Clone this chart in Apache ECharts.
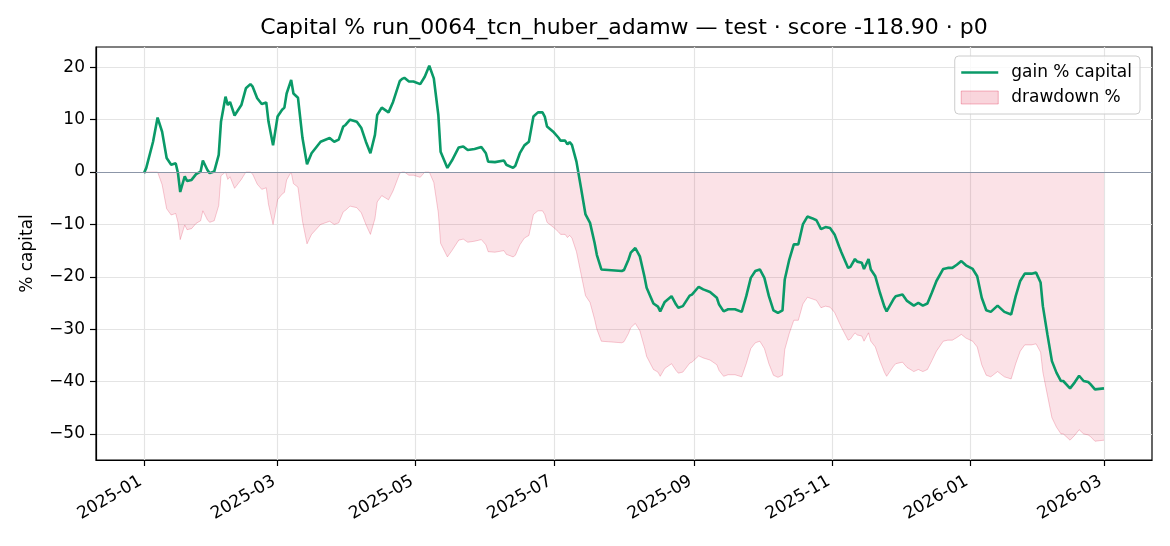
<!DOCTYPE html>
<html><head><meta charset="utf-8">
<script src="https://cdn.jsdelivr.net/npm/echarts@6/dist/echarts.min.js"></script>
<style>html,body{margin:0;padding:0;background:#fff}#c{width:1170px;height:546px}</style>
</head><body><div id="c"></div>
<script>
const dates = ['2025-01-01','2025-01-02','2025-01-05','2025-01-07','2025-01-09','2025-01-11','2025-01-13','2025-01-15','2025-01-16','2025-01-17','2025-01-19','2025-01-20','2025-01-22','2025-01-24','2025-01-26','2025-01-27','2025-01-29','2025-01-30',
'2025-02-01','2025-02-03','2025-02-04','2025-02-06','2025-02-07','2025-02-08','2025-02-10','2025-02-13','2025-02-15','2025-02-17','2025-02-18','2025-02-20','2025-02-22','2025-02-24','2025-02-25','2025-02-27',
'2025-03-01','2025-03-03','2025-03-04','2025-03-05','2025-03-07','2025-03-08','2025-03-10','2025-03-12','2025-03-14','2025-03-16','2025-03-20','2025-03-24','2025-03-26','2025-03-28','2025-03-30','2025-03-31',
'2025-04-02','2025-04-05','2025-04-07','2025-04-09','2025-04-11','2025-04-13','2025-04-14','2025-04-16','2025-04-19','2025-04-21','2025-04-24','2025-04-25','2025-04-26','2025-04-28','2025-04-30',
'2025-05-03','2025-05-05','2025-05-07','2025-05-09','2025-05-11','2025-05-12','2025-05-15','2025-05-17','2025-05-20','2025-05-22','2025-05-24','2025-05-27','2025-05-30',
'2025-06-01','2025-06-02','2025-06-05','2025-06-09','2025-06-10','2025-06-13','2025-06-14','2025-06-16','2025-06-18','2025-06-20','2025-06-22','2025-06-24','2025-06-26','2025-06-27','2025-06-28',
'2025-07-01','2025-07-03','2025-07-04','2025-07-06','2025-07-07','2025-07-08','2025-07-09','2025-07-11','2025-07-13','2025-07-15','2025-07-17','2025-07-19','2025-07-20','2025-07-22','2025-07-25','2025-07-31',
'2025-08-01','2025-08-03','2025-08-04','2025-08-06','2025-08-08','2025-08-10','2025-08-11','2025-08-14','2025-08-16','2025-08-17','2025-08-19','2025-08-22','2025-08-24','2025-08-25','2025-08-27','2025-08-30','2025-08-31',
'2025-09-03','2025-09-05','2025-09-08','2025-09-11','2025-09-12','2025-09-14','2025-09-16','2025-09-19','2025-09-22','2025-09-24','2025-09-26','2025-09-28','2025-09-30',
'2025-10-02','2025-10-04','2025-10-06','2025-10-08','2025-10-10','2025-10-11','2025-10-13','2025-10-15','2025-10-17','2025-10-19','2025-10-21','2025-10-23','2025-10-25','2025-10-27','2025-10-29','2025-10-31',
'2025-11-02','2025-11-04','2025-11-05','2025-11-08','2025-11-09','2025-11-11','2025-11-12','2025-11-14','2025-11-15','2025-11-17','2025-11-18','2025-11-20','2025-11-22','2025-11-24','2025-11-25','2025-11-28','2025-11-29',
'2025-12-02','2025-12-04','2025-12-07','2025-12-09','2025-12-11','2025-12-13','2025-12-15','2025-12-17','2025-12-20','2025-12-22','2025-12-24','2025-12-26','2025-12-28','2025-12-30',
'2026-01-02','2026-01-04','2026-01-06','2026-01-08','2026-01-10','2026-01-13','2026-01-16','2026-01-19','2026-01-21','2026-01-23','2026-01-25','2026-01-28','2026-01-30',
'2026-02-01','2026-02-02','2026-02-04','2026-02-06','2026-02-08','2026-02-10','2026-02-11','2026-02-14','2026-02-16','2026-02-18','2026-02-20','2026-02-22','2026-02-23','2026-02-25','2026-03-01'];

const gain = [-0.2,0.8,5.8,10.4,7.7,2.7,1.4,1.7,-0.2,-3.8,-0.8,-1.7,-1.5,-0.4,0.1,2.2,0.4,-0.2,
0.1,3.3,9.6,14.4,12.8,13.4,10.8,12.8,16.0,16.8,16.3,14.1,13.0,13.3,9.6,5.1,
10.6,11.9,12.3,15.0,17.6,15.0,14.2,6.5,1.5,3.6,5.8,6.5,5.8,6.2,8.7,9.0,
10.0,9.6,8.4,5.8,3.6,7.1,10.9,12.3,11.4,13.4,17.4,17.8,18.0,17.3,17.3,
16.8,18.2,20.3,17.9,10.9,3.9,0.8,2.2,4.7,4.9,4.2,4.4,4.8,
3.6,2.0,1.9,2.2,1.4,0.8,1.2,3.6,5.1,5.8,10.6,11.4,11.4,10.6,8.7,
7.6,6.6,6.0,6.0,5.3,5.7,5.2,2.0,-3.0,-8.1,-9.7,-13.5,-15.8,-18.6,-18.7,-18.9,
-18.7,-16.7,-15.4,-14.5,-16.1,-19.9,-22.1,-25.1,-25.7,-26.6,-24.8,-23.7,-25.3,-25.9,-25.6,-23.6,-23.4,
-21.9,-22.4,-22.9,-24.0,-25.3,-26.6,-26.2,-26.2,-26.7,-23.7,-20.2,-18.9,-18.6,
-20.2,-23.7,-26.4,-26.9,-26.4,-20.5,-16.7,-13.8,-13.8,-10.0,-8.5,-8.8,-9.2,-10.9,-10.5,-10.7,
-11.9,-14.2,-15.3,-18.3,-18.1,-16.6,-17.1,-17.3,-18.5,-16.6,-18.6,-19.9,-23.0,-25.7,-26.6,-24.3,-23.7,
-23.4,-24.6,-25.5,-25.0,-25.5,-25.1,-23.0,-20.8,-18.5,-18.3,-18.3,-17.7,-17.0,-17.8,
-18.5,-19.9,-24.0,-26.4,-26.7,-25.5,-26.7,-27.2,-23.7,-20.8,-19.4,-19.4,-19.2,
-21.1,-25.6,-31.0,-36.1,-38.3,-39.9,-39.9,-41.3,-40.2,-38.9,-39.9,-40.1,-40.5,-41.5,-41.3];

const drawdown = [-0.2,0,0,0,-2.4,-7.0,-8.2,-7.9,-9.6,-12.9,-10.1,-11.0,-10.8,-9.8,-9.3,-7.4,-9.1,-9.6,
-9.3,-6.4,-0.7,0,-1.4,-0.9,-3.1,-1.4,0,0,-0.4,-2.3,-3.3,-3.0,-6.2,-10.0,
-5.3,-4.2,-3.9,-1.5,0,-2.2,-2.9,-9.4,-13.7,-11.9,-10.0,-9.4,-10.0,-9.7,-7.6,-7.3,
-6.5,-6.8,-7.8,-10.0,-11.9,-8.9,-5.7,-4.5,-5.3,-3.6,-0.2,0,0,-0.6,-0.6,
-1.0,0,0,-2.0,-7.8,-13.6,-16.2,-15.0,-13.0,-12.8,-13.4,-13.2,-12.9,
-13.9,-15.2,-15.3,-15.0,-15.7,-16.2,-15.9,-13.9,-12.6,-12.1,-8.1,-7.4,-7.4,-8.1,-9.6,
-10.6,-11.4,-11.9,-11.9,-12.5,-12.1,-12.6,-15.2,-19.4,-23.6,-24.9,-28.1,-30.0,-32.3,-32.4,-32.6,
-32.4,-30.8,-29.7,-28.9,-30.3,-33.4,-35.2,-37.7,-38.2,-39.0,-37.5,-36.6,-37.9,-38.4,-38.2,-36.5,-36.3,
-35.1,-35.5,-35.9,-36.8,-37.9,-39.0,-38.7,-38.7,-39.1,-36.6,-33.7,-32.6,-32.3,
-33.7,-36.6,-38.8,-39.2,-38.8,-33.9,-30.8,-28.3,-28.3,-25.2,-23.9,-24.2,-24.5,-25.9,-25.6,-25.8,
-26.8,-28.7,-29.6,-32.1,-31.9,-30.7,-31.1,-31.3,-32.3,-30.7,-32.3,-33.4,-36.0,-38.2,-39.0,-37.1,-36.6,
-36.3,-37.3,-38.1,-37.7,-38.1,-37.7,-36.0,-34.2,-32.3,-32.1,-32.1,-31.6,-31.0,-31.7,
-32.3,-33.4,-36.8,-38.8,-39.1,-38.1,-39.1,-39.5,-36.6,-34.2,-33.0,-33.0,-32.8,
-34.4,-38.2,-42.6,-46.9,-48.7,-50.0,-50.0,-51.2,-50.3,-49.2,-50.0,-50.2,-50.5,-51.4,-51.2];

const tickLabels = ['2025-01','2025-03','2025-05','2025-07','2025-09','2025-11','2026-01','2026-03'];
const yTicks = [-50,-40,-30,-20,-10,0,10,20];

function ts(s){ const p = s.split('-').map(Number); return Date.UTC(p[0], p[1]-1, p[2] || 1); }
const xs = dates.map(ts);
const x0 = xs[0], x1 = xs[xs.length-1], xpad = (x1 - x0) * 0.05;
const allY = gain.concat(drawdown, [0]);
const yLo = Math.min.apply(null, allY), yHi = Math.max.apply(null, allY), ypad = (yHi - yLo) * 0.05;
const tickTs = tickLabels.map(ts);
function fmtMonth(v){ const d = new Date(v); return d.getUTCFullYear() + '-' + String(d.getUTCMonth()+1).padStart(2,'0'); }
function fmtY(v){ return v < 0 ? '\u2212' + Math.abs(v) : String(v); }
const FONT = 'DejaVu Sans';
const GREEN = '#0a9a68';

const chart = echarts.init(document.getElementById('c'), null, {renderer: 'canvas'});
chart.setOption({
  animation: false,
  backgroundColor: '#fff',
  title: {
    text: 'Capital % run_0064_tcn_huber_adamw \u2014 test \u00b7 score -118.90 \u00b7 p0',
    left: 624, textAlign: 'center', top: 17, padding: 0,
    textStyle: {fontFamily: FONT, fontSize: 22, fontWeight: 'normal', color: '#000'}
  },
  legend: {
    orient: 'vertical', right: 30, top: 56, padding: [8, 8, 8, 6], itemGap: 8,
    itemWidth: 37, itemHeight: 13,
    backgroundColor: 'rgba(255,255,255,0.8)', borderColor: '#cccccc', borderWidth: 1, borderRadius: 4,
    textStyle: {fontFamily: FONT, fontSize: 17, color: '#000', padding: [0, 0, 0, 8]},
    data: [
      {name: 'gain % capital', icon: 'path://M0,0 M0,5.2 L37,5.2 L37,7.8 L0,7.8 Z M37,13',
       itemStyle: {color: GREEN, borderWidth: 0}},
      {name: 'drawdown %', icon: 'rect', itemStyle: {color: 'rgba(220,20,60,0.18)', borderColor: 'rgba(220,20,60,0.3)', borderWidth: 1}}
    ]
  },
  grid: {left: 96, right: 18, top: 47, bottom: 86, show: true, borderColor: '#000', borderWidth: 1.2, backgroundColor: 'transparent'},
  xAxis: {
    type: 'value', min: x0 - xpad, max: x1 + xpad,
    axisLine: {show: true, onZero: false, lineStyle: {color: '#000', width: 1.2}},
    axisTick: {show: true, customValues: tickTs, length: 6, lineStyle: {color: '#000', width: 1.2}},
    axisLabel: {customValues: tickTs, formatter: fmtMonth, rotate: 30, fontFamily: FONT, fontSize: 17, color: '#000', margin: 18, padding: [0, 4, 0, 0]},
    splitLine: {show: true, lineStyle: {color: '#e4e4e4', width: 1.2}}
  },
  yAxis: {
    type: 'value', min: yLo - ypad, max: yHi + ypad,
    name: '% capital', nameLocation: 'middle', nameGap: 60,
    nameTextStyle: {fontFamily: FONT, fontSize: 17, color: '#000'},
    axisLine: {show: true, onZero: false, lineStyle: {color: '#000', width: 1.2}},
    axisTick: {show: true, customValues: yTicks, length: 6, lineStyle: {color: '#000', width: 1.2}},
    axisLabel: {customValues: yTicks, formatter: fmtY, fontFamily: FONT, fontSize: 17, color: '#000', margin: 11},
    splitLine: {show: true, lineStyle: {color: '#e4e4e4', width: 1.2}}
  },
  series: [
    {
      name: 'drawdown %', type: 'line', symbol: 'none', showSymbol: false, z: 2,
      data: xs.map((t, i) => [t, drawdown[i]]),
      lineStyle: {color: 'rgba(220,20,60,0.22)', width: 1},
      itemStyle: {color: 'rgba(220,20,60,0.18)'},
      areaStyle: {color: 'rgba(220,20,60,0.18)', origin: 'auto'},
      markLine: {silent: true, symbol: 'none', label: {show: false}, animation: false,
        lineStyle: {color: '#8c96a8', width: 1.2, type: 'solid'}, data: [{yAxis: 0}]}
    },
    {
      name: 'gain % capital', type: 'line', symbol: 'none', showSymbol: false, z: 3,
      data: xs.map((t, i) => [t, gain[i]]),
      lineStyle: {color: GREEN, width: 2.6},
      itemStyle: {color: GREEN}
    }
  ]
});
</script></body></html>
